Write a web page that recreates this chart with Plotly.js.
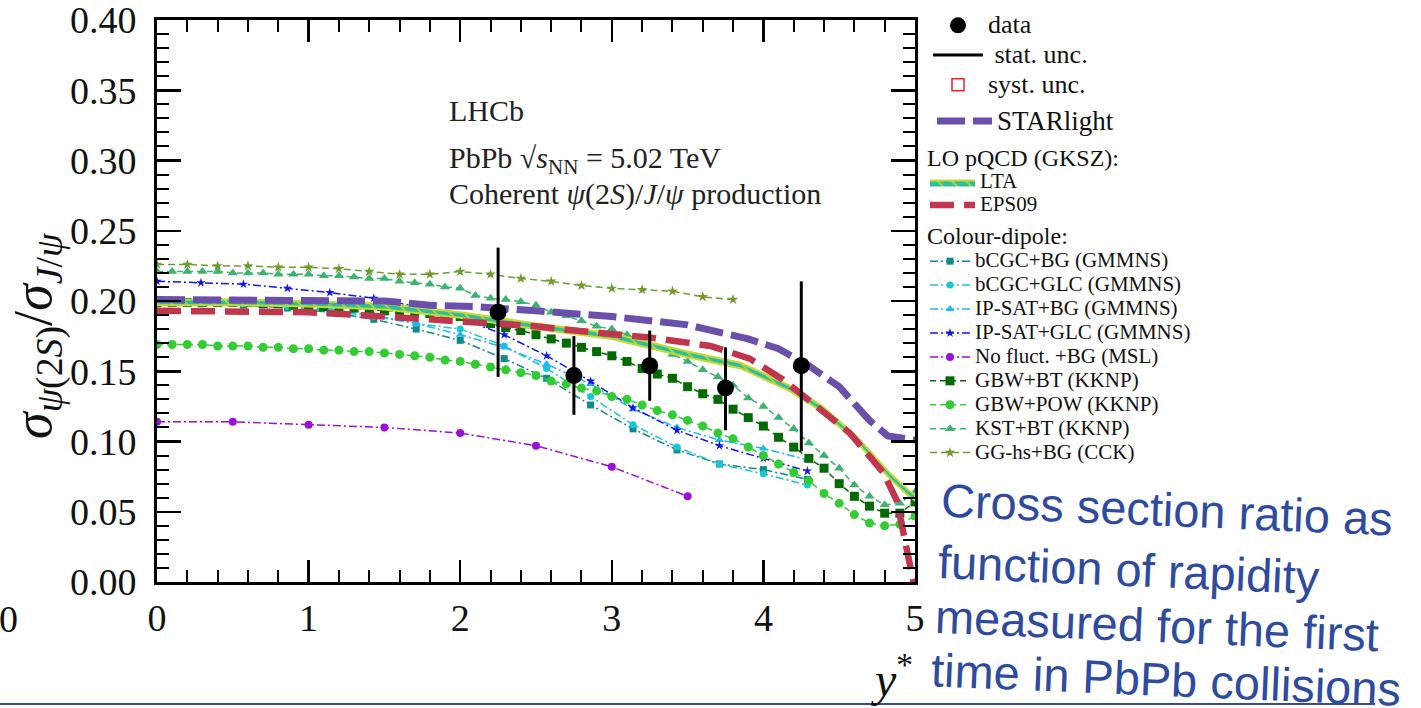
<!DOCTYPE html>
<html>
<head>
<meta charset="utf-8">
<script src="https://cdn.plot.ly/plotly-3.0.1.min.js"></script>
<style>html,body{margin:0;padding:0;background:#fff;}</style>
</head>
<body>
<div id="chart" style="width:1421px;height:708px;"></div>
<script>
// ---------- data ----------
const dataX    = [2.25, 2.75, 3.25, 3.75, 4.25];
const dataY    = [0.192, 0.147, 0.154, 0.138, 0.154];
const statHi   = [0.238, 0.175, 0.179, 0.167, 0.214];
const statLo   = [0.146, 0.119, 0.129, 0.108, 0.093];

const starX = [0, 0.5, 1.0, 1.5, 1.8, 2.1, 2.5, 3.0, 3.5, 3.9, 4.1, 4.3, 4.5, 4.7, 4.82, 5.0];
const starY = [0.201, 0.201, 0.201, 0.200, 0.197, 0.196, 0.193, 0.189, 0.183, 0.173, 0.166, 0.154, 0.139, 0.115, 0.104, 0.101];

const ltaX  = [0, 0.5, 1.0, 1.5, 2.0, 2.5, 3.0, 3.5, 3.85, 4.17, 4.39, 4.62, 4.84, 4.95, 5.0];
const ltaHi = [0.201, 0.201, 0.200, 0.198, 0.192, 0.184, 0.177, 0.164, 0.156, 0.140, 0.125, 0.103, 0.077, 0.066, 0.062];
const ltaLo = [0.197, 0.197, 0.196, 0.194, 0.188, 0.180, 0.173, 0.160, 0.152, 0.136, 0.121, 0.099, 0.073, 0.062, 0.058];

const epsX = [0, 0.5, 1.0, 1.5, 2.0, 2.5, 2.66, 3.25, 3.65, 3.91, 4.13, 4.35, 4.57, 4.79, 4.88, 4.99];
const epsY = [0.193, 0.193, 0.192, 0.189, 0.186, 0.182, 0.180, 0.174, 0.168, 0.159, 0.144, 0.125, 0.106, 0.078, 0.058, 0.0];

// GMMNS grid
const gmX = [0, 0.29, 0.57, 0.86, 1.14, 1.43, 1.71, 2.0, 2.29, 2.57, 2.86, 3.14, 3.43, 3.71, 4.0, 4.29];
const bcgcBG  = [0.198, 0.198, 0.197, 0.195, 0.192, 0.187, 0.180, 0.172, 0.159, 0.145, 0.126, 0.109, 0.094, 0.084, 0.080, 0.073];
const bcgcGLC = [0.199, 0.198, 0.198, 0.196, 0.193, 0.189, 0.184, 0.180, 0.168, 0.152, 0.132, 0.112, 0.096, 0.084, 0.077, 0.069];
const ipsatBG = [0.200, 0.200, 0.199, 0.197, 0.194, 0.190, 0.184, 0.176, 0.167, 0.155, 0.141, 0.123, 0.110, 0.101, 0.095, 0.087];
const ipsatGLC= [0.214, 0.213, 0.212, 0.209, 0.206, 0.202, 0.196, 0.188, 0.176, 0.161, 0.143, 0.124, 0.108, 0.097, 0.088, 0.079];

// MSL
const mslX = [0, 0.5, 1.0, 1.5, 2.0, 2.5, 3.0, 3.5];
const mslY = [0.114, 0.114, 0.112, 0.110, 0.106, 0.097, 0.082, 0.061];

// KKNP grid
const kkX = [0,0.1,0.2,0.3,0.4,0.5,0.6,0.7,0.8,0.9,1.0,1.1,1.2,1.3,1.4,1.5,1.6,1.7,1.8,1.9,2.0,2.1,2.2,2.3,2.4,2.5,2.6,2.7,2.8,2.9,3.0,3.1,3.2,3.3,3.4,3.5,3.6,3.7,3.8,3.9,4.0,4.1,4.2,4.3,4.4,4.5,4.6,4.7,4.8,4.9,5.0];
const gbwBT = [0.199,0.199,0.199,0.199,0.199,0.199,0.199,0.198,0.198,0.197,0.197,0.196,0.196,0.195,0.194,0.193,0.193,0.192,0.191,0.190,0.189,0.186,0.184,0.181,0.179,0.176,0.173,0.170,0.167,0.164,0.161,0.157,0.152,0.148,0.145,0.139,0.134,0.130,0.123,0.117,0.111,0.103,0.096,0.088,0.081,0.070,0.061,0.054,0.049,0.049,0.057];
const gbwPOW= [0.169,0.169,0.169,0.169,0.168,0.168,0.168,0.167,0.167,0.166,0.166,0.165,0.165,0.164,0.164,0.163,0.162,0.161,0.160,0.158,0.157,0.155,0.153,0.151,0.149,0.147,0.143,0.141,0.138,0.136,0.132,0.130,0.126,0.122,0.119,0.115,0.111,0.106,0.102,0.096,0.090,0.084,0.078,0.072,0.063,0.056,0.048,0.042,0.040,0.041,0.047];
const kstBT = [0.221,0.221,0.221,0.221,0.221,0.220,0.220,0.220,0.219,0.219,0.219,0.218,0.218,0.217,0.216,0.216,0.214,0.213,0.212,0.210,0.209,0.204,0.202,0.201,0.1995,0.197,0.192,0.1895,0.186,0.182,0.180,0.176,0.172,0.167,0.162,0.157,0.151,0.146,0.140,0.131,0.125,0.117,0.109,0.099,0.090,0.081,0.069,0.061,0.055,0.056,0.064];

// CCK
const cckX = [0,0.2,0.4,0.6,0.8,1.0,1.2,1.4,1.6,1.8,2.0,2.2,2.4,2.6,2.8,3.0,3.2,3.4,3.6,3.8];
const cckY = [0.226,0.226,0.225,0.225,0.224,0.224,0.223,0.221,0.219,0.219,0.221,0.219,0.216,0.214,0.211,0.209,0.208,0.207,0.203,0.201];

const yTickVals = [0, 0.05, 0.10, 0.15, 0.20, 0.25, 0.30, 0.35, 0.40];
const xTickVals = [0, 1, 2, 3, 4, 5];

const blueLines = ['Cross section ratio as', 'function of rapidity', 'measured for the first', 'time in PbPb collisions'];

// ---------- traces ----------
const statXs = [], statYs = [];
dataX.forEach((x, i) => { statXs.push(x, x, null); statYs.push(statLo[i], statHi[i], null); });

const ltaPolyX = ltaX.concat(ltaX.slice().reverse());
const ltaPolyY = ltaHi.concat(ltaLo.slice().reverse());

const DD = '8px,3px,2px,3px';
const DA = '6px,4px';
const sp = (t, s) => '<span style="font-size:' + s + 'px">' + t + '</span>';

function model(name, x, y, color, symbol, size, dash) {
  return {type:'scatter', mode:'lines+markers', name:sp(name, 21), x:x, y:y, legend:'legend4',
    line:{color:color, width:1.5, dash:dash}, marker:{color:color, symbol:symbol, size:size}, hoverinfo:'skip'};
}

const traces = [
  model('bCGC+BG (GMMNS)', gmX, bcgcBG, '#138a8a', 'square', 7, DD),
  model('bCGC+GLC (GMMNS)', gmX, bcgcGLC, '#18c6d6', 'circle', 7, DD),
  model('IP-SAT+BG (GMMNS)', gmX, ipsatBG, '#1fb8f2', 'triangle-up', 8, DD),
  model('IP-SAT+GLC (GMMNS)', gmX, ipsatGLC, '#1414f0', 'star', 7, DD),
  model('No fluct. +BG (MSL)', mslX, mslY, '#9a10d8', 'circle', 8, DD),
  model('GBW+BT (KKNP)', kkX, gbwBT, '#046b04', 'square', 9, DA),
  model('GBW+POW (KKNP)', kkX, gbwPOW, '#34cc34', 'circle', 9, DA),
  model('KST+BT (KKNP)', kkX, kstBT, '#3cb371', 'triangle-up', 9, DA),
  model('GG-hs+BG (CCK)', cckX, cckY, '#739a2c', 'star', 8, '7px,4px'),
  {type:'scatter', mode:'lines', name:sp('LTA', 21), x:ltaPolyX, y:ltaPolyY, fill:'toself', legend:'legend3',
   fillcolor:'#2bbfa2', fillpattern:{shape:'\\', fgcolor:'#c8d92e', bgcolor:'#2bbfa2', size:10, solidity:0.15},
   line:{color:'#c8d92e', width:2}, hoverinfo:'skip', legendrank:1},
  {type:'scatter', mode:'lines', name:sp('EPS09', 21), x:epsX, y:epsY, legend:'legend3',
   line:{color:'#c1354f', width:6.5, dash:'24px,10px'}, hoverinfo:'skip', legendrank:2},
  {type:'scatter', mode:'lines', name:sp('STARlight', 27), x:starX, y:starY, legend:'legend2',
   line:{color:'#6a50aa', width:7, dash:'28px,8px'}, hoverinfo:'skip'},
  {type:'bar', name:sp('syst. unc.', 26), x:[null], y:[null], legend:'legend',
   marker:{color:'rgba(255,255,255,0)', line:{color:'#ee2020', width:1.5}}, hoverinfo:'skip', legendrank:3},
  {type:'scatter', mode:'lines', name:sp('&nbsp;stat. unc.', 26), x:statXs, y:statYs, legend:'legend',
   line:{color:'#000', width:3}, hoverinfo:'skip', legendrank:2},
  {type:'scatter', mode:'markers', name:sp('data', 26), x:dataX, y:dataY, legend:'legend',
   marker:{color:'#000', size:17, symbol:'circle'}, hoverinfo:'skip', legendrank:1}
];

// ---------- layout ----------
const W = 1421, H = 708;
const PX = px => (px - 157) / 758;   // pixel -> paper x
const PY = py => (582 - py) / 562;   // pixel -> paper y
const CX = px => px / W;             // pixel -> container x
const CY = py => 1 - py / H;         // pixel -> container y
const serif = 'Liberation Serif, Times New Roman, serif';
const sans = 'Liberation Sans, Arial, sans-serif';

const axisCommon = {
  type:'linear', ticks:'inside', tickcolor:'#000', tickwidth:2.5, showline:true, linewidth:3, linecolor:'#000',
  mirror:'ticks', showgrid:false, zeroline:false, fixedrange:true, ticklabeloverflow:'allow'
};

const legendCommon = {xref:'container', yref:'container', xanchor:'left', yanchor:'top', bgcolor:'rgba(0,0,0,0)', borderwidth:0,
  traceorder:'normal', itemclick:false, itemdoubleclick:false};

const blueY = [509, 569, 625, 679];
const blueX = [938, 935, 932, 928];

const annotations = [
  {xref:'paper', yref:'paper', x:PX(37), y:PY(335), xanchor:'center', yanchor:'middle', showarrow:false, textangle:-90,
   text:'<i>σ</i><sub><i>ψ</i>(2<i>S</i>)</sub>/<i>σ</i><sub><i>J</i>/<i>ψ</i></sub>', font:{size:54, family:serif, color:'#111'}},
  {xref:'paper', yref:'paper', x:PX(447), y:PY(111), xanchor:'left', yanchor:'middle', showarrow:false,
   text:'LHCb', font:{size:30, family:serif, color:'#222'}},
  {xref:'paper', yref:'paper', x:PX(447), y:PY(160), xanchor:'left', yanchor:'middle', showarrow:false,
   text:'PbPb √<i>s</i><sub>NN</sub> = 5.02 TeV', font:{size:30, family:serif, color:'#222'}},
  {xref:'paper', yref:'paper', x:PX(447), y:PY(194), xanchor:'left', yanchor:'middle', showarrow:false,
   text:'Coherent <i>ψ</i>(2<i>S</i>)/<i>J</i>/<i>ψ</i> production', font:{size:30, family:serif, color:'#222'}},
  {xref:'paper', yref:'paper', x:1, y:PY(676), xanchor:'right', yanchor:'middle', showarrow:false,
   text:'<i>y</i><sup>*</sup>', font:{size:48, family:serif, color:'#111'}},
  {xref:'paper', yref:'paper', x:PX(8), y:PY(619), xanchor:'center', yanchor:'middle', showarrow:false,
   text:'0', font:{size:38, family:serif, color:'#111'}}
];
blueLines.forEach((t, i) => annotations.push({
  xref:'paper', yref:'paper', x:PX(blueX[i]), y:PY(blueY[i]), xanchor:'left', yanchor:'middle', showarrow:false,
  textangle:2.4, text:t, font:{size:47, family:sans, color:'#2f4b9e'}
}));

const layout = {
  width:W, height:H,
  margin:{l:157, r:506, t:20, b:126, pad:0, autoexpand:false},
  paper_bgcolor:'#fff', plot_bgcolor:'#fff',
  font:{family:serif, color:'#111'},
  showlegend:true,
  xaxis: Object.assign({}, axisCommon, {
    range:[0,5], tickvals:xTickVals, ticklen:22, tickfont:{size:38, color:'#111'}, ticklabelstandoff:0,
    minor:{dtick:0.2, tick0:0, ticklen:12, tickwidth:2, ticks:'inside', tickcolor:'#000', showgrid:false}
  }),
  yaxis: Object.assign({}, axisCommon, {
    range:[0,0.4], tickvals:yTickVals, tickformat:'.2f', ticklen:24, tickfont:{size:38, color:'#111'}, ticklabelstandoff:10,
    minor:{dtick:0.01, tick0:0, ticklen:12, tickwidth:2, ticks:'inside', tickcolor:'#000', showgrid:false}
  }),
  legend: Object.assign({}, legendCommon, {x:CX(928), y:CY(55), yanchor:'middle', font:{size:20.5, family:serif, color:'#111'}, itemwidth:50}),
  legend2: Object.assign({}, legendCommon, {x:CX(932), y:CY(99), font:{size:24, family:serif, color:'#111'}, itemwidth:55}),
  legend3: Object.assign({}, legendCommon, {x:CX(925), y:CY(135), font:{size:15, family:serif, color:'#111'}, itemwidth:45,
    title:{text:'LO pQCD (GKSZ):', font:{size:24, family:serif, color:'#111'}}}),
  legend4: Object.assign({}, legendCommon, {x:CX(925), y:CY(213), font:{size:16.1, family:serif, color:'#111'}, itemwidth:40,
    title:{text:'Colour-dipole:', font:{size:24, family:serif, color:'#111'}}}),
  annotations: annotations,
  shapes:[
    {type:'line', xref:'paper', yref:'paper', x0:PX(0), x1:PX(1375), y0:PY(704), y1:PY(704),
     line:{color:'#2f4b9e', width:2}}
  ]
};

Plotly.newPlot('chart', traces, layout, {displayModeBar:false, staticPlot:true});
</script>
</body>
</html>
